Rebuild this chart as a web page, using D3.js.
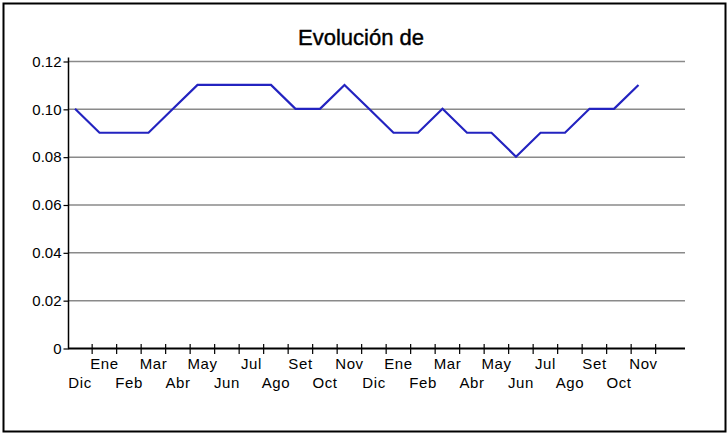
<!DOCTYPE html>
<html><head><meta charset="utf-8">
<script src="https://cdn.jsdelivr.net/npm/d3@7"></script>
<style>body{margin:0;background:#fff}</style>
</head><body>
<script>
const months = ["Dic","Ene","Feb","Mar","Abr","May","Jun","Jul","Ago","Set","Oct","Nov","Dic","Ene","Feb","Mar","Abr","May","Jun","Jul","Ago","Set","Oct","Nov"];
const values = [0.10,0.09,0.09,0.09,0.10,0.11,0.11,0.11,0.11,0.10,0.10,0.11,0.10,0.09,0.09,0.10,0.09,0.09,0.08,0.09,0.09,0.10,0.10,0.11];
const yTicks = [0,0.02,0.04,0.06,0.08,0.10,0.12];
const title = "Evolución de";

(function(){
const W = 728, H = 434;
const svg = d3.select("body").append("svg").attr("width", W).attr("height", H);
svg.append("rect").attr("x",3.5).attr("y",3.5).attr("width",722).attr("height",428)
  .attr("fill","#fff").attr("stroke","#000").attr("stroke-width",2);

const font = "'Liberation Sans',Arial,sans-serif";
const mL = 68, mR = 685, mT = 61, mB = 348;
const x = d3.scalePoint().domain(d3.range(months.length)).range([75, 638.5]);
const step = x.step();
const y = d3.scaleLinear().domain([0, 0.12]).range([mB, mT]);

// gridlines
svg.append("g").selectAll("line").data(yTicks.filter(d=>d>0)).join("line")
  .attr("x1", mL).attr("x2", mR).attr("y1", d=>y(d)+0.5).attr("y2", d=>y(d)+0.5)
  .attr("stroke","#8a8a8a").attr("stroke-width",1.5);

// y axis
const yAxis = d3.axisLeft(y).tickValues(yTicks).tickSize(5).tickPadding(2)
  .tickFormat(d => d === 0 ? "0" : d3.format(".2f")(d));
const gy = svg.append("g").attr("transform", `translate(${mL+0.5},0.5)`).call(yAxis);
gy.select(".domain").attr("stroke","#000").attr("stroke-width",1.5).attr("d", `M0,${mT-4}V${mB}`);
gy.selectAll(".tick line").attr("stroke","#000").attr("stroke-width",1.2);
gy.selectAll(".tick text").attr("font-family", font).attr("font-size", 15).attr("fill","#000");

// x axis line
svg.append("line").attr("x1", mL).attr("x2", mR).attr("y1", mB+0.5).attr("y2", mB+0.5)
  .attr("stroke","#000").attr("stroke-width",2);
// x ticks
svg.append("g").selectAll("line").data(d3.range(months.length)).join("line")
  .attr("x1", i => x(i) + step*0.7).attr("x2", i => x(i) + step*0.7)
  .attr("y1", mB-4).attr("y2", mB+6)
  .attr("stroke","#000").attr("stroke-width",1.2);
// x labels
svg.append("g").selectAll("text").data(months).join("text")
  .attr("x", (d,i) => x(i) + 5)
  .attr("y", (d,i) => i % 2 === 1 ? mB + 21 : mB + 40)
  .attr("text-anchor","middle").attr("font-family", font).attr("font-size", 15)
  .attr("letter-spacing", 0.6).attr("fill","#000")
  .text(d => d);

// line
const line = d3.line().x((d,i)=>x(i)).y(d=>y(d));
svg.append("path").datum(values).attr("d", line).attr("fill","none")
  .attr("stroke","#2323c0").attr("stroke-width",2.2).attr("stroke-linejoin","miter");

// title
svg.append("text").attr("x", 361).attr("y", 45).attr("text-anchor","middle")
  .attr("font-family", font).attr("font-size",22).attr("fill","#000")
  .attr("stroke","#000").attr("stroke-width",0.4)
  .text(title);
})();
</script>
</body></html>
